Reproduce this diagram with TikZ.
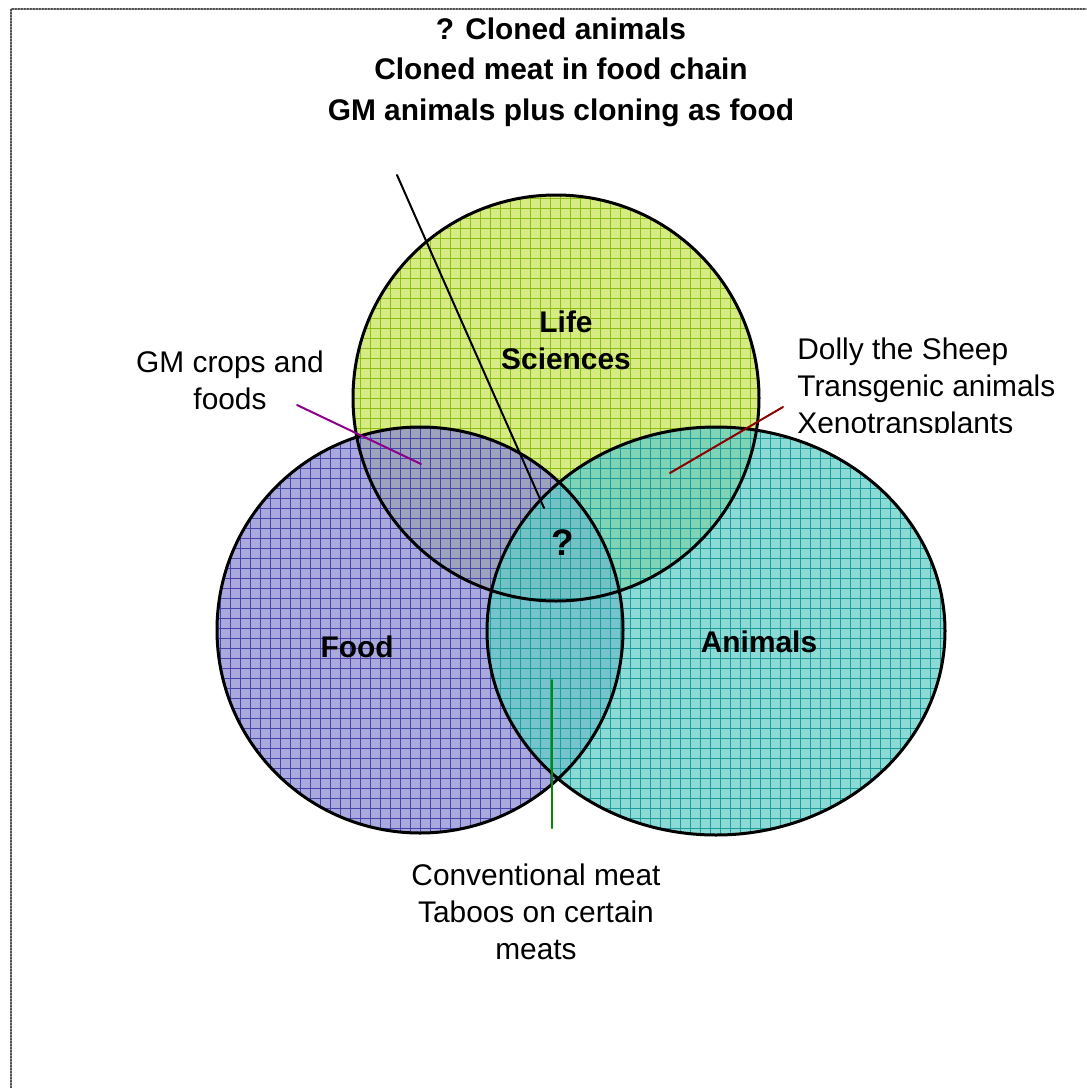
\documentclass[tikz,border=0pt]{standalone}
\usepackage{fontspec}
\setmainfont{Liberation Sans}
\usetikzlibrary{patterns.meta}
\definecolor{lifecol}{RGB}{200,228,90}
\definecolor{lifegrid}{RGB}{140,190,20}
\definecolor{foodcol}{RGB}{140,140,210}
\definecolor{foodgrid}{RGB}{70,70,170}
\definecolor{animcol}{RGB}{100,205,200}
\definecolor{animgrid}{RGB}{30,155,155}
\definecolor{gmline}{RGB}{140,0,140}
\definecolor{dollyline}{RGB}{140,0,0}
\definecolor{meatline}{RGB}{0,140,0}
\tikzset{
  frame/.style={gray!60!black, line width=0.35mm, dash pattern=on 0.3mm off 0.3mm},
  ring/.style={draw=black, line width=0.6mm},
  grid fill/.style={pattern={Hatch[angle=0,distance=2mm,line width=0.15mm]}, pattern color=#1},
  txt/.style={align=center, font=\fontsize{17}{21}\selectfont, inner sep=0pt},
  hd/.style={txt, font=\fontsize{17}{21}\selectfont\bfseries},
  ptr/.style={line width=0.4mm},
}
\begin{document}
\begin{tikzpicture}[x=0.2mm, y=-0.2mm, line join=round, line cap=round]
  \useasboundingbox (0,0) rectangle (1086,1088);
  \draw[frame] (11,1088)--(11,9)--(1086,9);
  % the three sets
  \fill[lifecol, fill opacity=0.75] (556,398) circle (203);
  \fill[foodcol, fill opacity=0.75] (420,630) circle (203);
  \fill[animcol, fill opacity=0.75] (716,631) ellipse (229 and 204);
  \fill[grid fill=lifegrid, fill opacity=0.7] (556,398) circle (203);
  \fill[grid fill=foodgrid, fill opacity=0.7] (420,630) circle (203);
  \fill[grid fill=animgrid, fill opacity=0.7] (716,631) ellipse (229 and 204);
  \draw[ring] (556,398) circle (203);
  \draw[ring] (420,630) circle (203);
  \draw[ring] (716,631) ellipse (229 and 204);
  % labels
  \node[hd, font=\fontsize{17}{23}\selectfont\bfseries] (ttl) at (561,72) {? Cloned animals\\Cloned meat in food chain\\GM animals plus cloning as food};
  \node[hd] (life) at (566,340) {Life\\Sciences};
  \node[hd] (food) at (357,647) {Food};
  \node[hd] (anim) at (759,642) {Animals};
  \node[hd, font=\fontsize{21}{25}\selectfont\bfseries] (qq) at (563,543) {?};
  \node[txt] (gm) at (230,380) {GM crops and\\foods};
  \node[txt] (meat) at (536,912) {Conventional meat\\Taboos on certain\\meats};
  \begin{scope}
    \clip (780,320) rectangle (1086,432);
    \node[txt, align=left, anchor=west] (dolly) at (797,389) {Dolly the Sheep\\Transgenic animals\\Xenotransplants};
  \end{scope}
  % pointers
  \coordinate (ttl-a) at (397,175);
  \coordinate (ttl-b) at (544,508);
  \coordinate (gm-a) at (297,405);
  \coordinate (gm-b) at (421,464);
  \coordinate (dolly-a) at (783,407);
  \coordinate (dolly-b) at (670,473);
  \coordinate (meat-a) at (552,828);
  \coordinate (meat-b) at (552,680);
  \draw[ptr] (ttl-a)--(ttl-b);
  \draw[ptr, gmline] (gm-a)--(gm-b);
  \draw[ptr, dollyline] (dolly-a)--(dolly-b);
  \draw[ptr, meatline] (meat-a)--(meat-b);
\end{tikzpicture}
\end{document}
